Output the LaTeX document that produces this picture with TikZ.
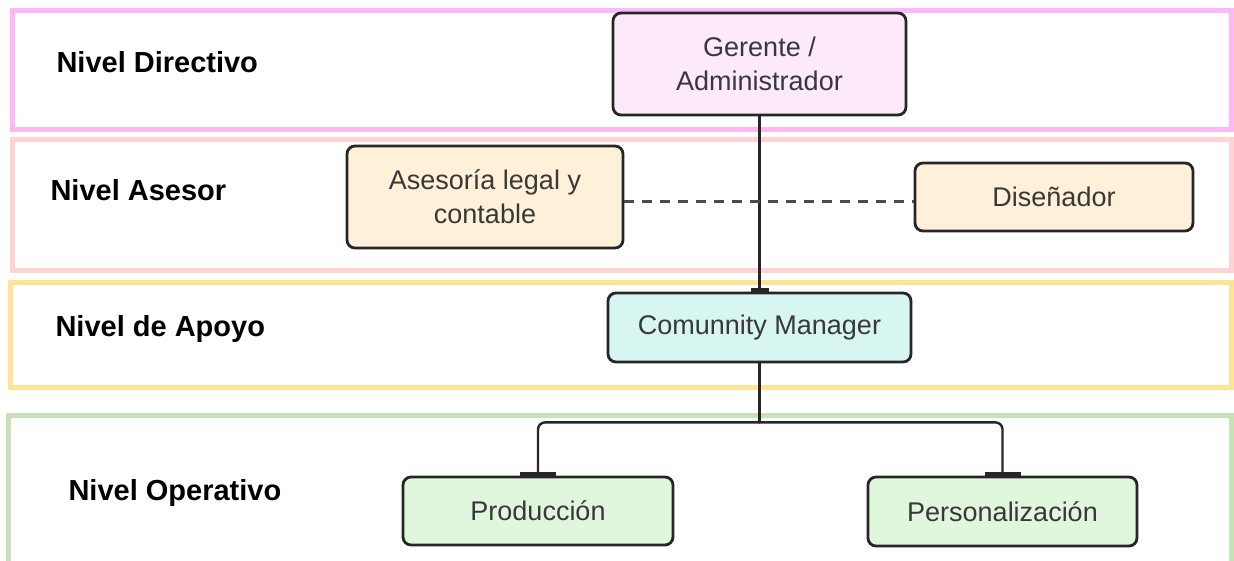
\documentclass[tikz,border=0pt]{standalone}
\usepackage{fontspec}
\setmainfont{Liberation Sans}
\usetikzlibrary{arrows.meta,calc,positioning}
\definecolor{bandaRosa}{HTML}{FDB8FA}
\definecolor{bandaSalmon}{HTML}{FFD3D3}
\definecolor{bandaAmarilla}{HTML}{FFE397}
\definecolor{bandaVerde}{HTML}{C8E1B7}
\definecolor{cajaRosa}{HTML}{FCE9FA}
\definecolor{cajaCrema}{HTML}{FFF1D9}
\definecolor{cajaCian}{HTML}{D8F6F1}
\definecolor{cajaVerde}{HTML}{E1F7DD}
\definecolor{cajaBorde}{HTML}{262626}
\definecolor{cajaTexto}{HTML}{383838}
\definecolor{lineaGris}{HTML}{4A4A4A}

\begin{document}
\begin{tikzpicture}[x=1pt,y=-1pt,>=Latex,line cap=round,line join=round]
\useasboundingbox (0,0) rectangle (1234,560);
\clip (0,0) rectangle (1234,560);
\path[fill=white] (0,0) rectangle (1234,560);
\tikzset{band/.style={line width=5pt,line join=miter,line cap=butt},cargo/.style={draw=cajaBorde,line width=2.8pt,rounded corners=8pt,text=cajaTexto,font=\fontsize{27}{34}\selectfont,align=center,inner sep=0pt},nivel/.style={anchor=west,text=black,font=\fontsize{29}{34}\selectfont\bfseries},wire/.style={draw=cajaBorde,line width=2.4pt},dashline/.style={draw=lineaGris,line width=3pt,dash pattern=on 10pt off 8pt,line cap=butt},tee/.style={-{Rectangle[length=4pt,width=#1]}}}
\draw[band,bandaRosa] (12,10) rectangle (1231.5,129);
\draw[band,bandaSalmon] (12,139.5) rectangle (1231.5,270.5);
\draw[band,bandaAmarilla] (10,282.5) rectangle (1231.5,387.5);
\draw[band,bandaVerde] (8,415.5) rectangle (1231.5,575);
\node[nivel] (dir) at (53,62) {Nivel Directivo};
\node[nivel] (ases) at (47,190) {Nivel Asesor};
\node[nivel] (apoyo) at (52,329) {Nivel de Apoyo};
\node[nivel] (oper) at (65,493) {Nivel Operativo};
\node[cargo,fill=cajaRosa,minimum width=293pt,minimum height=102pt] (ger) at (759.5,64) {Gerente /\\Administrador};
\node[cargo,fill=cajaCrema,minimum width=276pt,minimum height=102pt] (ase) at (485,197) {Asesoría legal y\\contable};
\node[cargo,fill=cajaCrema,minimum width=278pt,minimum height=68pt] (dis) at (1054,197) {Diseñador};
\node[cargo,fill=cajaCian,minimum width=303pt,minimum height=69pt] (cm) at (759.5,327.5) {Comunnity Manager};
\node[cargo,fill=cajaVerde,minimum width=270pt,minimum height=68pt] (prod) at (538,511) {Producción};
\node[cargo,fill=cajaVerde,minimum width=269pt,minimum height=69pt] (pers) at (1002.5,511.5) {Personalización};
\coordinate (split) at ($(cm.south)+(0,59)$);
\draw[wire,tee=18pt] (ger.south) -- (cm.north);
\draw[dashline] ([yshift=-4pt]ase.east) -- ([yshift=-4pt]dis.west);
\draw[wire] (cm.south) -- (split);
\draw[wire,rounded corners=7pt,tee=36pt] (split) -| (prod.north);
\draw[wire,rounded corners=7pt,tee=36pt] (split) -| (pers.north);
\end{tikzpicture}
\end{document}
